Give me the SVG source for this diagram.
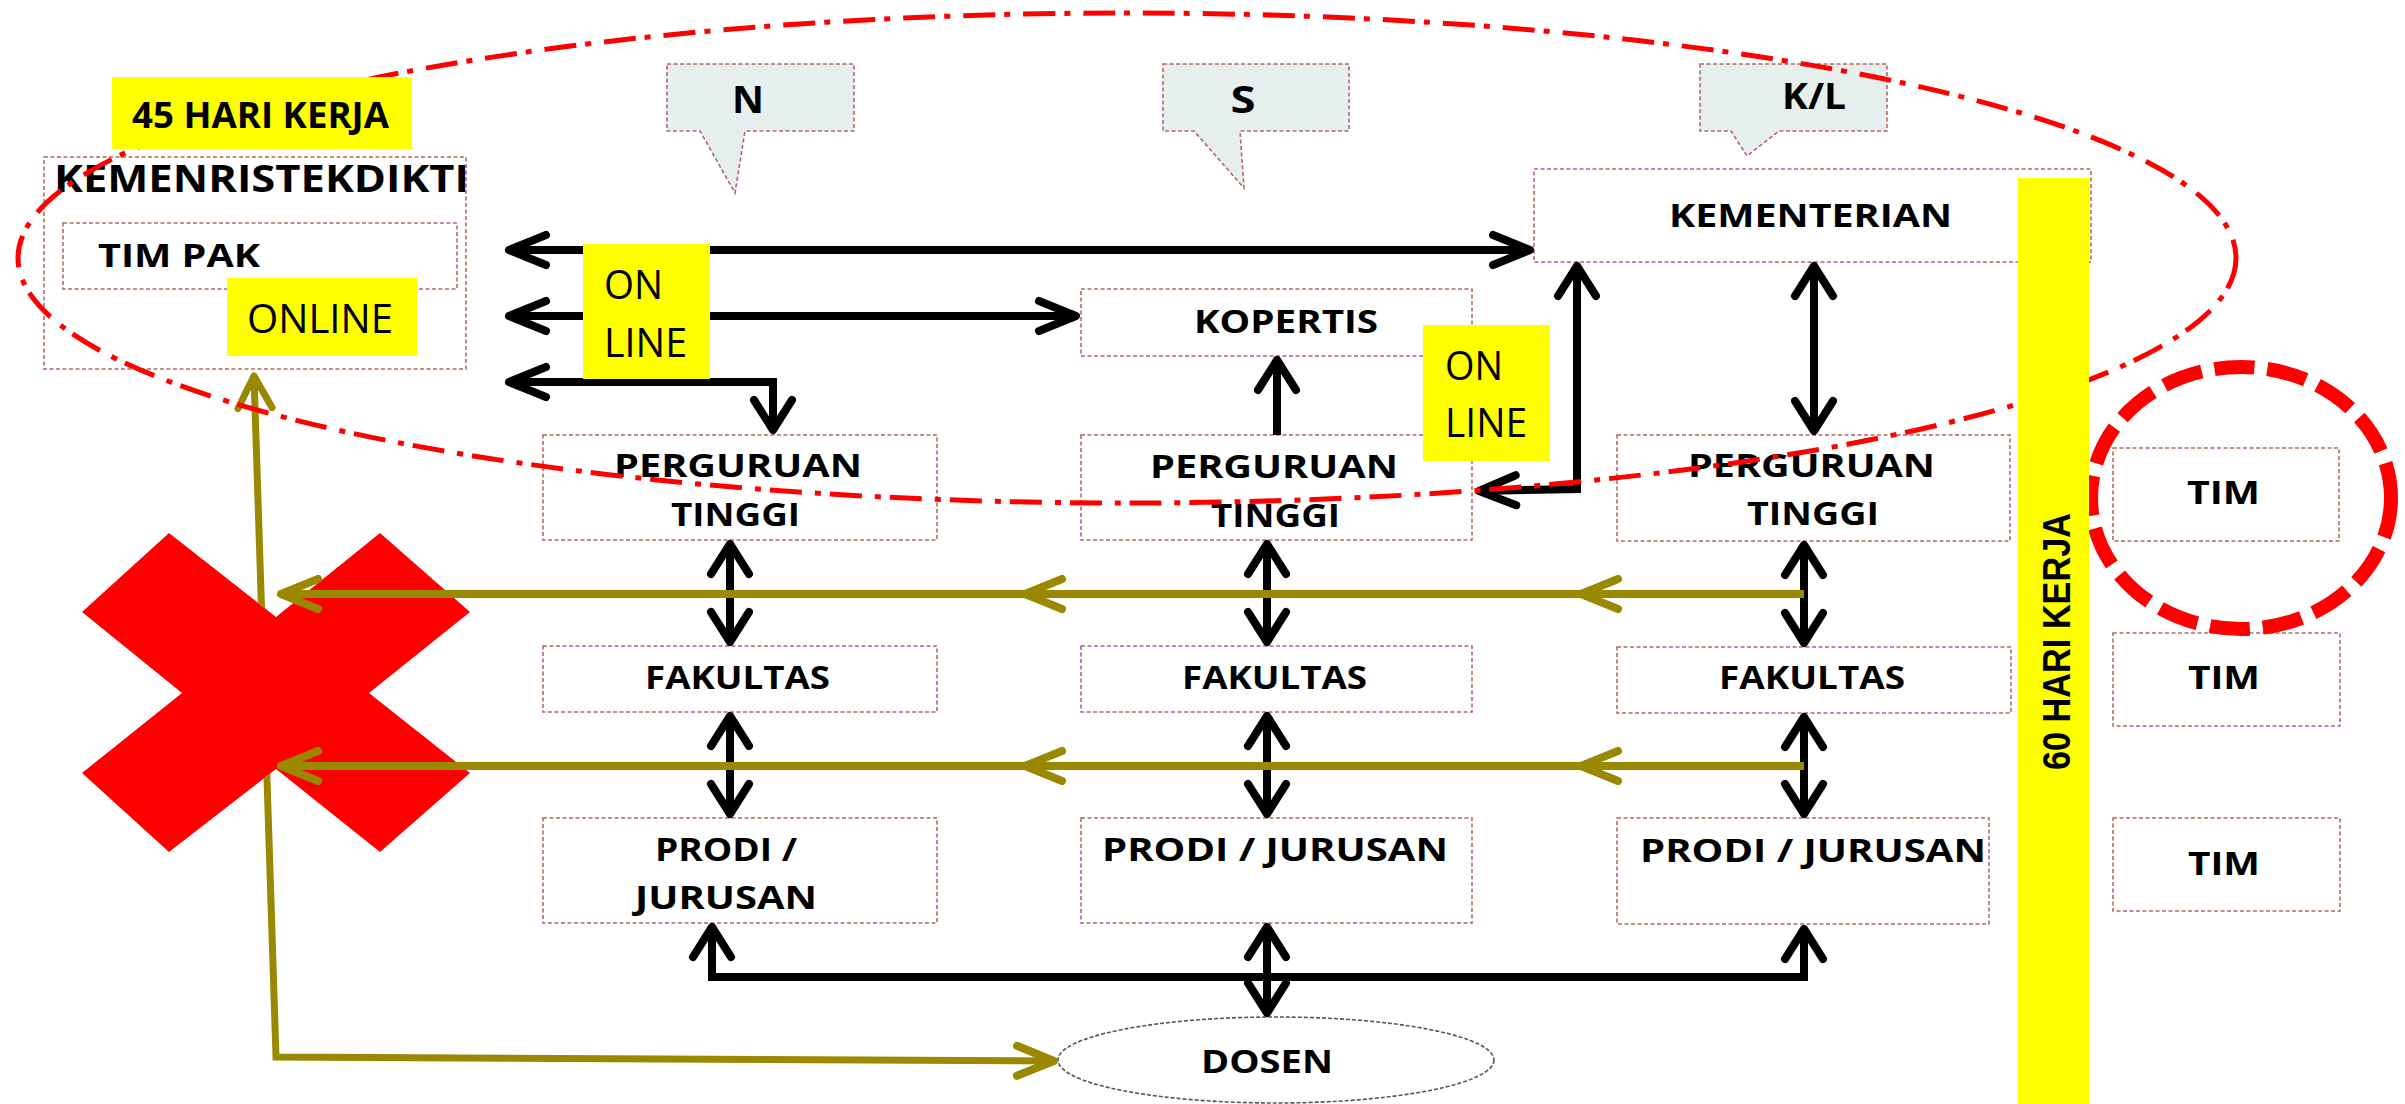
<svg xmlns="http://www.w3.org/2000/svg" width="2405" height="1104" viewBox="0 0 2405 1104">
<style>
.box{fill:#fff;stroke:#B36A5E;stroke-width:1.6;stroke-dasharray:4 2.5}
.call{fill:#E7EEEE;stroke:#B36A5E;stroke-width:1.6;stroke-dasharray:4 2.5}
.yel{fill:#FFFF00}
.t{font-family:"Open Sans","Liberation Sans",sans-serif;font-weight:700;fill:#000;font-size:32px}
.r{font-family:"Open Sans","Liberation Sans",sans-serif;font-weight:400;fill:#000;font-size:41px}
.v{font-family:"Liberation Sans",Arial,sans-serif;font-weight:700;fill:#000;font-size:39px}
.bk{fill:none;stroke:#000;stroke-width:8;stroke-linejoin:miter}
.ol{fill:none;stroke:#998800;stroke-width:8}
</style>
<defs>
<marker id="bh" markerUnits="userSpaceOnUse" orient="auto-start-reverse" overflow="visible" markerWidth="1" markerHeight="1" refX="0" refY="0"><path d="M-37,-15 L0,0 L-37,15" fill="none" stroke="#000" stroke-width="8" stroke-linecap="round" stroke-linejoin="round"/></marker>
<marker id="bv" markerUnits="userSpaceOnUse" orient="auto-start-reverse" overflow="visible" markerWidth="1" markerHeight="1" refX="0" refY="0"><path d="M-30,-19 L0,0 L-30,19" fill="none" stroke="#000" stroke-width="8" stroke-linecap="round" stroke-linejoin="round"/></marker>
<marker id="oh" markerUnits="userSpaceOnUse" orient="auto-start-reverse" overflow="visible" markerWidth="1" markerHeight="1" refX="0" refY="0"><path d="M-37,-15 L0,0 L-37,15" fill="none" stroke="#998800" stroke-width="8" stroke-linecap="round" stroke-linejoin="round"/></marker>
<marker id="ov" markerUnits="userSpaceOnUse" orient="auto-start-reverse" overflow="visible" markerWidth="1" markerHeight="1" refX="0" refY="0"><path d="M-32,-17 L0,0 L-32,17" fill="none" stroke="#998800" stroke-width="7" stroke-linecap="round" stroke-linejoin="round"/></marker>
<mask id="noX" maskUnits="userSpaceOnUse" x="0" y="0" width="2405" height="1104">
<rect x="0" y="0" width="2405" height="1104" fill="#fff"/>
<polygon points="169,533 276,617 380,533 470,612 369,693 470,773 380,852 276,769 169,852 82,773 182,693 82,612" fill="#000"/>
</mask>
</defs>
<rect x="0" y="0" width="2405" height="1104" fill="#fff"/>

<g id="node-kemenristekdikti">
<rect class="box" x="44" y="157" width="422" height="212"/>
<text class="t" x="54" y="192" style="font-size:37px" textLength="415" lengthAdjust="spacingAndGlyphs">KEMENRISTEKDIKTI</text>
</g>
<g id="node-timpak">
<rect class="box" x="63" y="223" width="394" height="66"/>
<text class="t" x="98" y="267" style="font-size:33px" textLength="162" lengthAdjust="spacingAndGlyphs">TIM PAK</text>
</g>
<g id="node-kementerian">
<rect class="box" x="1534" y="169" width="557" height="93"/>
<text class="t" x="1669" y="227" style="font-size:33px" textLength="283" lengthAdjust="spacingAndGlyphs">KEMENTERIAN</text>
</g>
<g id="node-kopertis">
<rect class="box" x="1081" y="289" width="391" height="67"/>
<text class="t" x="1194" y="333" textLength="184" lengthAdjust="spacingAndGlyphs">KOPERTIS</text>
</g>
<g id="node-pt1">
<rect class="box" x="543" y="435" width="394" height="105"/>
<text class="t" x="614" y="477" textLength="248" lengthAdjust="spacingAndGlyphs">PERGURUAN</text>
<text class="t" x="671" y="526" textLength="129" lengthAdjust="spacingAndGlyphs">TINGGI</text>
</g>
<g id="node-pt2">
<rect class="box" x="1081" y="435" width="391" height="105"/>
<text class="t" x="1150" y="478" textLength="248" lengthAdjust="spacingAndGlyphs">PERGURUAN</text>
<text class="t" x="1211" y="527" textLength="129" lengthAdjust="spacingAndGlyphs">TINGGI</text>
</g>
<g id="node-pt3">
<rect class="box" x="1617" y="435" width="393" height="106"/>
<text class="t" x="1688" y="477" textLength="247" lengthAdjust="spacingAndGlyphs">PERGURUAN</text>
<text class="t" x="1747" y="525" textLength="132" lengthAdjust="spacingAndGlyphs">TINGGI</text>
</g>
<g id="node-fak1">
<rect class="box" x="543" y="646" width="394" height="66"/>
<text class="t" x="645" y="689" textLength="185" lengthAdjust="spacingAndGlyphs">FAKULTAS</text>
</g>
<g id="node-fak2">
<rect class="box" x="1081" y="646" width="391" height="66"/>
<text class="t" x="1182" y="689" textLength="185" lengthAdjust="spacingAndGlyphs">FAKULTAS</text>
</g>
<g id="node-fak3">
<rect class="box" x="1617" y="647" width="394" height="66"/>
<text class="t" x="1719" y="689" textLength="186" lengthAdjust="spacingAndGlyphs">FAKULTAS</text>
</g>
<g id="node-prodi1">
<rect class="box" x="543" y="818" width="394" height="105"/>
<text class="t" x="655" y="861" textLength="142" lengthAdjust="spacingAndGlyphs">PRODI /</text>
<text class="t" x="635" y="909" textLength="182" lengthAdjust="spacingAndGlyphs">JURUSAN</text>
</g>
<g id="node-prodi2">
<rect class="box" x="1081" y="818" width="391" height="105"/>
<text class="t" x="1102" y="861" textLength="346" lengthAdjust="spacingAndGlyphs">PRODI / JURUSAN</text>
</g>
<g id="node-prodi3">
<rect class="box" x="1617" y="818" width="372" height="106"/>
<text class="t" x="1640" y="862" textLength="346" lengthAdjust="spacingAndGlyphs">PRODI / JURUSAN</text>
</g>
<g id="node-tim1">
<rect class="box" x="2113" y="448" width="226" height="93"/>
<text class="t" x="2187" y="504" textLength="73" lengthAdjust="spacingAndGlyphs">TIM</text>
</g>
<g id="node-tim2">
<rect class="box" x="2113" y="633" width="227" height="93"/>
<text class="t" x="2188" y="689" textLength="72" lengthAdjust="spacingAndGlyphs">TIM</text>
</g>
<g id="node-tim3">
<rect class="box" x="2113" y="818" width="227" height="93"/>
<text class="t" x="2188" y="875" textLength="72" lengthAdjust="spacingAndGlyphs">TIM</text>
</g>
<g id="node-dosen">
<ellipse cx="1276" cy="1060" rx="218" ry="43" fill="#fff" stroke="#555" stroke-width="1.6" stroke-dasharray="4 2"/>
<text class="t" x="1201" y="1073" textLength="132" lengthAdjust="spacingAndGlyphs">DOSEN</text>
</g>
<g id="node-callout-n">
<path class="call" d="M667 64 H854 V131 H745 L735 193 L700 131 H667 Z"/>
<text class="t" x="748" y="113" text-anchor="middle" style="font-size:38px" textLength="32" lengthAdjust="spacingAndGlyphs">N</text>
</g>
<g id="node-callout-s">
<path class="call" d="M1163 64 H1349 V131 H1240 L1244 188 L1194 131 H1163 Z"/>
<text class="t" x="1243" y="113" text-anchor="middle" style="font-size:38px" textLength="25" lengthAdjust="spacingAndGlyphs">S</text>
</g>
<g id="node-callout-kl">
<path class="call" d="M1700 64 H1887 V131 H1779 L1747 156 L1731 131 H1700 Z"/>
<text class="t" x="1814" y="109" text-anchor="middle" style="font-size:36px" textLength="64" lengthAdjust="spacingAndGlyphs">K/L</text>
</g>

<polygon id="red-x" points="169,533 276,617 380,533 470,612 369,693 470,773 380,852 276,769 169,852 82,773 182,693 82,612" fill="#FF0000"/>

<g id="connectors">
<path class="bk" d="M509 250 H1530" marker-start="url(#bh)" marker-end="url(#bh)"/>
<path class="bk" d="M509 316 H1076" marker-start="url(#bh)" marker-end="url(#bh)"/>
<path class="bk" d="M509 382 H773 V430" marker-start="url(#bh)" marker-end="url(#bv)"/>
<path class="bk" d="M730 544 V642" marker-start="url(#bv)" marker-end="url(#bv)"/>
<path class="bk" d="M730 716 V814" marker-start="url(#bv)" marker-end="url(#bv)"/>
<path class="bk" d="M1267 544 V642" marker-start="url(#bv)" marker-end="url(#bv)"/>
<path class="bk" d="M1267 716 V814" marker-start="url(#bv)" marker-end="url(#bv)"/>
<path class="bk" d="M1804 545 V643" marker-start="url(#bv)" marker-end="url(#bv)"/>
<path class="bk" d="M1804 717 V814" marker-start="url(#bv)" marker-end="url(#bv)"/>
<path class="bk" d="M1277 435 V360" marker-end="url(#bv)"/>
<path class="bk" d="M1814 266 V431" marker-start="url(#bv)" marker-end="url(#bv)"/>
<path class="bk" d="M1577 266 V489 L1479 491" marker-start="url(#bv)" marker-end="url(#bh)"/>
<path class="bk" d="M712 927 V977 H1804 V929" marker-start="url(#bv)" marker-end="url(#bv)"/>
<path class="bk" d="M1267 927 V1013" marker-start="url(#bv)" marker-end="url(#bv)"/>
<path class="ol" style="stroke-width:7" mask="url(#noX)" d="M254 376 L276 1057 L1054 1061" marker-start="url(#ov)" marker-end="url(#oh)"/>
<path class="ol" d="M1804 594 H1581 H1025 H281" marker-mid="url(#oh)" marker-end="url(#oh)"/>
<path class="ol" d="M1804 766 H1581 H1025 H281" marker-mid="url(#oh)" marker-end="url(#oh)"/>
</g>

<ellipse id="scope-ellipse" cx="1127" cy="258" rx="1109" ry="245" fill="none" stroke="#FF0000" stroke-width="5" stroke-dasharray="32 9 6 13"/>
<ellipse id="tim-circle" cx="2241" cy="498" rx="150" ry="131" fill="none" stroke="#FF0000" stroke-width="14" stroke-dasharray="40 13"/>

<g id="label-45hari">
<rect class="yel" x="112" y="77" width="300" height="72"/>
<text class="t" x="132" y="128" style="font-size:36px" textLength="257" lengthAdjust="spacingAndGlyphs">45 HARI KERJA</text>
</g>
<g id="label-online-kem">
<rect class="yel" x="227" y="278" width="190" height="78"/>
<text class="r" x="247" y="333" textLength="146" lengthAdjust="spacingAndGlyphs">ONLINE</text>
</g>
<g id="label-online-1">
<rect class="yel" x="583" y="244" width="127" height="135"/>
<text class="r" x="604" y="299" textLength="59" lengthAdjust="spacingAndGlyphs">ON</text>
<text class="r" x="604" y="357" textLength="83" lengthAdjust="spacingAndGlyphs">LINE</text>
</g>
<g id="label-online-2">
<rect class="yel" x="1423" y="325" width="127" height="136"/>
<text class="r" x="1445" y="380" textLength="58" lengthAdjust="spacingAndGlyphs">ON</text>
<text class="r" x="1445" y="437" textLength="82" lengthAdjust="spacingAndGlyphs">LINE</text>
</g>
<g id="label-60hari">
<rect class="yel" x="2018" y="178" width="71" height="926"/>
<text class="v" transform="translate(2070,641.5) rotate(-90)" x="0" y="0" text-anchor="middle" textLength="257" lengthAdjust="spacingAndGlyphs">60 HARI KERJA</text>
</g>
</svg>
